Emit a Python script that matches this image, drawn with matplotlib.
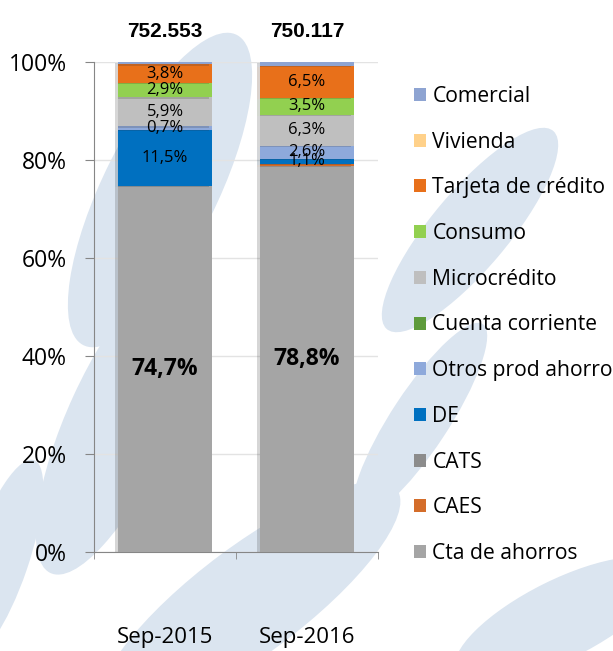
import matplotlib
matplotlib.use("Agg")
import matplotlib.pyplot as plt
import matplotlib.patheffects as pe
from matplotlib.patches import Ellipse, Patch
import numpy as np

categories = ["Sep-2015", "Sep-2016"]
totals = ["752.553", "750.117"]

# stacked bottom -> top
series_names = [
    "Cta de ahorros", "CAES", "CATS", "DE", "Otros prod ahorro",
    "Cuenta corriente", "Microcrédito", "Consumo", "Tarjeta de crédito",
    "Vivienda", "Comercial",
]
cta_ahorros = [74.7, 78.8]
caes = [0.0, 0.4]
cats = [0.0, 0.0]
de = [11.5, 1.1]
otros_ahorro = [0.7, 2.6]
cuenta_corriente = [0.0, 0.0]
microcredito = [5.9, 6.3]
consumo = [2.9, 3.5]
tarjeta = [3.8, 6.5]
vivienda = [0.0, 0.0]
comercial = [0.5, 0.8]

values = [cta_ahorros, caes, cats, de, otros_ahorro, cuenta_corriente,
          microcredito, consumo, tarjeta, vivienda, comercial]
colors = ["#A5A5A5", "#D46D2A", "#8C8C8C", "#0070C0", "#8EA9DB", "#5E9B3B",
          "#BFBFBF", "#92D050", "#E8701A", "#FFD18A", "#8EA4D2"]
labelled = {"DE", "Otros prod ahorro", "Microcrédito", "Consumo", "Tarjeta de crédito"}

plt.rcParams["font.family"] = ["Open Sans", "DejaVu Sans"]

fig = plt.figure(figsize=(6.13, 6.51), dpi=100)

# light blue leaf watermark in the background
leaf = "#dbe5f0"
for (cx, cy, w, h, ang) in [
    (160, 190, 330, 120, 62), (120, 420, 320, 110, 64), (0, 560, 200, 60, 70),
    (250, 600, 360, 110, 35), (470, 230, 250, 80, 48), (420, 420, 220, 60, 55),
    (560, 620, 230, 80, 25),
]:
    fig.patches.append(Ellipse((cx / 613, 1 - cy / 651), w / 613, h / 651, angle=ang,
                               transform=fig.transFigure, facecolor=leaf,
                               edgecolor="none", zorder=-10))

ax = fig.add_axes([94 / 613, 1 - 552 / 651, 284 / 613, 490 / 651])
ax.set_zorder(2)
ax.patch.set_alpha(0)

x = np.arange(len(categories))
bottom = np.zeros(len(categories))
shadow = [pe.SimplePatchShadow(offset=(-2, -1), alpha=0.2), pe.Normal()]
for name, vals, col in zip(series_names, values, colors):
    vals = np.array(vals)
    bars = ax.bar(x, vals, 0.66, bottom=bottom, color=col, label=name, zorder=3)
    for b in bars:
        b.set_path_effects(shadow)
    for i, v in enumerate(vals):
        yc = bottom[i] + v / 2
        if name == "Cta de ahorros":
            ax.text(x[i], yc, f"{v:.1f}%".replace(".", ","), ha="center", va="center",
                    fontsize=16.5, fontweight="bold", zorder=5)
        elif name in labelled:
            ax.text(x[i], yc, f"{v:.1f}%".replace(".", ","), ha="center", va="center",
                    fontsize=12, zorder=5)
    bottom += vals

for i, t in enumerate(totals):
    ax.text(x[i], 1.063, t, transform=ax.get_xaxis_transform(), ha="center", va="center",
            fontsize=15, fontweight="bold", family="Liberation Sans")

ax.set_xlim(-0.5, 1.5)
ax.set_ylim(0, 100)
ax.set_yticks(np.arange(0, 101, 20))
ax.set_yticklabels([f"{v}%" for v in range(0, 101, 20)], fontsize=16.5)
ax.yaxis.grid(True, color="#E3E3E3", linewidth=1, zorder=0)
ax.set_axisbelow(True)

ax.set_xticks(x)
ax.set_xticklabels(categories, fontsize=16)
ax.set_xticks([-0.5, 0.5, 1.5], minor=True)
ax.tick_params(axis="x", which="major", length=0, pad=54)
ax.tick_params(axis="x", which="minor", length=5, color="#868686")
ax.tick_params(axis="y", length=6.5, color="#868686", pad=13)

for s in ["top", "right"]:
    ax.spines[s].set_visible(False)
for s in ["left", "bottom"]:
    ax.spines[s].set_color("#868686")

handles = [Patch(facecolor=c, edgecolor="none", label=n) for n, c in zip(series_names, colors)]
fig.legend(handles=handles[::-1], loc="upper left", bbox_to_anchor=(414 / 613, 1 - 86 / 651),
           frameon=False, fontsize=15.2, handlelength=0.57, handleheight=0.57,
           handletextpad=0.3, labelspacing=1.17, borderaxespad=0, borderpad=0)

fig.savefig("out.png", dpi=100)
